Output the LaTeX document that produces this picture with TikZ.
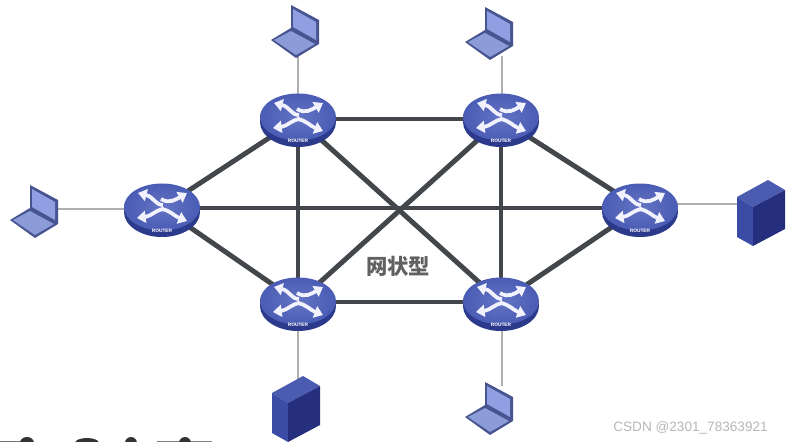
\documentclass[tikz,border=0pt]{standalone}
\usepackage{fontspec}
\setmainfont{Liberation Sans}
\newfontfamily\cjkfont{Noto Sans CJK SC}
\usetikzlibrary{arrows.meta,shapes.geometric}
\definecolor{linkdark}{HTML}{43474B}
\definecolor{linkthin}{HTML}{AEB0AE}
\definecolor{rtop}{HTML}{4A5CB4}
\definecolor{rtoplight}{HTML}{6474C4}
\definecolor{rside}{HTML}{2C3A8C}
\definecolor{lapdark}{HTML}{47548F}
\definecolor{lapscreen}{HTML}{8F9FE2}
\definecolor{lapkey}{HTML}{8C9CD8}
\definecolor{srvtop}{HTML}{4A5BB0}
\definecolor{srvleft}{HTML}{3A4CA6}
\definecolor{srvright}{HTML}{262F7D}
\tikzset{
  x=0.75pt,y=-0.75pt,
  anchorpt/.style={ellipse,minimum width=28.5pt,minimum height=18pt,inner sep=0pt},
  heavy/.style={draw=linkdark,line width=3.7pt},
  thinlink/.style={draw=linkthin,line width=1.8pt},
  whitearrow/.style={draw=white!95!blue,line width=2.8pt,-{Triangle[length=6.5pt,width=9pt]}},
  routertag/.style={text=white,font=\bfseries\fontsize{3.6pt}{4pt}\selectfont,inner sep=0pt},
  routerpic/.pic={
    \fill[rside] (0,5) ellipse[x radius=38,y radius=25];
    \shade[inner color=rtoplight,outer color=rtop] (0,0) ellipse[x radius=38,y radius=23.5];
    \draw[whitearrow] (1,-2) .. controls (-7,-2) and (-8,-10) .. (-24,-14);
    \draw[whitearrow] (-1,-8) .. controls (7,-3) and (13,-7) .. (25,-14);
    \draw[whitearrow] (2,2) .. controls (-7,3) and (-10,9) .. (-25,11);
    \draw[whitearrow] (-1,2) .. controls (8,3) and (12,9) .. (25,14);
    \node[routertag] at (0,24) {ROUTER};
  },
  laptoppic/.pic={
    \fill[lapdark] (-4,-25) -- (24,-10) -- (24,14) -- (1,28) -- (-24,10) -- (-4,-2) -- cycle;
    \fill[lapscreen] (-2,-21) -- (21,-8) -- (21,10) -- (-2,-3) -- cycle;
    \fill[lapkey] (-21,10) -- (-4,1) -- (20,14) -- (1,25) -- cycle;
  },
  serverpic/.pic={
    \fill[srvtop] (0,0) -- (31,-17) -- (48,-7) -- (16,10) -- cycle;
    \fill[srvleft] (0,0) -- (16,10) -- (16,49) -- (0,40) -- cycle;
    \fill[srvright] (16,10) -- (48,-7) -- (48,32) -- (16,49) -- cycle;
  },
}
\begin{document}
\begin{tikzpicture}
\useasboundingbox (0,0) rectangle (786,442);
\fill[white] (0,0) rectangle (786,442);
% anchors
\node[anchorpt] (ra) at (298,119) {};
\node[anchorpt] (rb) at (501,119) {};
\node[anchorpt] (rc) at (162,208) {};
\node[anchorpt] (rd) at (640,208) {};
\node[anchorpt] (re) at (298,302) {};
\node[anchorpt] (rf) at (501,302) {};
\coordinate (la) at (298,56);
\coordinate (lb) at (502,56);
\coordinate (lc) at (55,209);
\coordinate (sd) at (740,204);
\coordinate (se) at (298,382);
\coordinate (lf) at (502,386);
% thin links
\draw[thinlink] (la) -- (la |- ra.center);
\draw[thinlink] (lb) -- (lb |- rb.center);
\draw[thinlink] (lc) -- (lc -| rc.center);
\draw[thinlink] (sd) -- (sd -| rd.center);
\draw[thinlink] (se) -- (se |- re.center);
\draw[thinlink] (lf) -- (lf |- rf.center);
% mesh
\draw[heavy] (ra.center) -- (rb.center);
\draw[heavy] (ra.center) -- (rc.center);
\draw[heavy] (ra.center) -- (re.center);
\draw[heavy] (ra.center) -- (rf.center);
\draw[heavy] (rb.center) -- (rd.center);
\draw[heavy] (rb.center) -- (re.center);
\draw[heavy] (rb.center) -- (rf.center);
\draw[heavy] (rc.center) -- (rd.center);
\draw[heavy] (rc.center) -- (re.center);
\draw[heavy] (rd.center) -- (rf.center);
\draw[heavy,line width=3pt] (re.center) -- (rf.center);
% routers
\foreach \p/\q in {298/117,501/117,162/207,640/207,298/301,501/301}
  \pic at (\p,\q) {routerpic};
% end devices
\pic at (295,30) {laptoppic};
\pic at (489,32) {laptoppic};
\pic at (34,210) {laptoppic};
\pic at (489,407) {laptoppic};
\pic at (272,393) {serverpic};
\pic at (737,197) {serverpic};
% labels
\node[text=black!62,font=\cjkfont\bfseries\fontsize{16pt}{16pt}\selectfont,inner sep=0pt] (title) at (398,266) {网状型};
\node[text=black!28,font=\fontsize{10.2pt}{11pt}\selectfont,inner sep=0pt,anchor=east] (mark) at (768,428) {CSDN @2301\_78363921};
% cropped fragment at the bottom edge
\begin{scope}
\clip (0,0) rectangle (786,442);
\fill[black!55] (0,440.5) rectangle (25,442);
\fill[black!80] (27,443) ellipse[x radius=7,y radius=6];
\fill[black!80] (87,443) ellipse[x radius=12,y radius=5];
\fill[black!80] (131,443) ellipse[x radius=6,y radius=6];
\fill[black!50] (157,440.5) rectangle (212,442);
\fill[black!80] (185,443) ellipse[x radius=6,y radius=6];
\end{scope}
\end{tikzpicture}
\end{document}
